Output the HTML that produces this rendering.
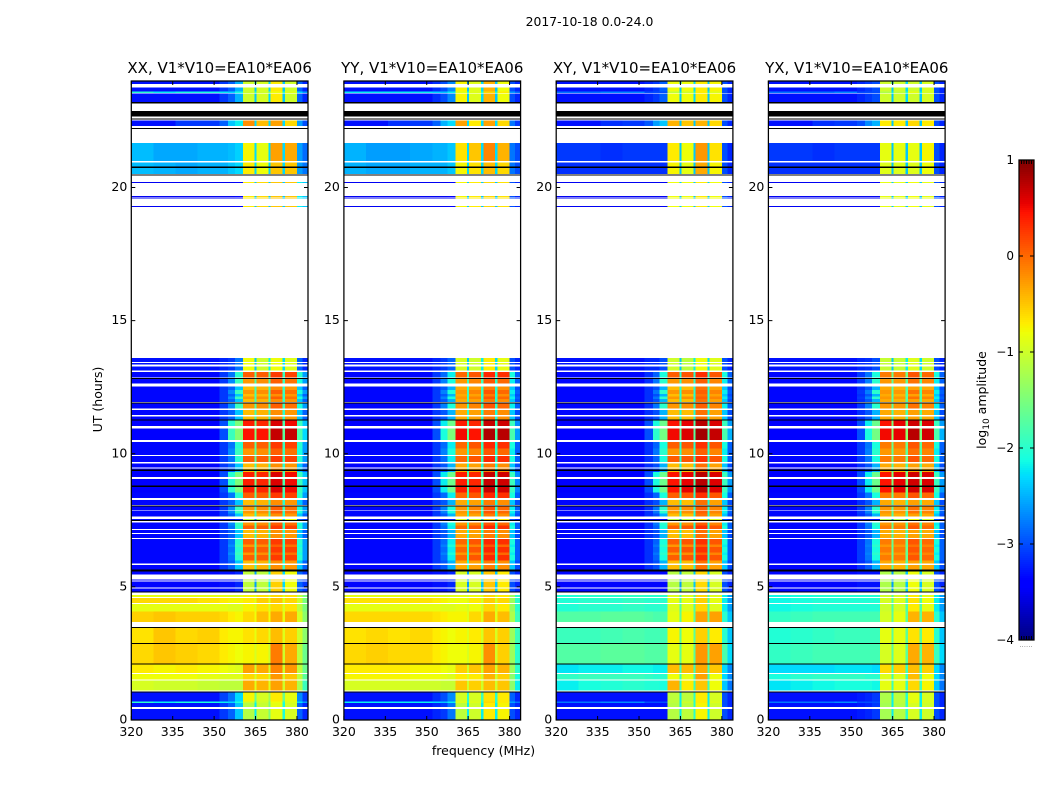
<!DOCTYPE html>
<html lang="en">
<head>
<meta charset="utf-8">
<title>2017-10-18 0.0-24.0 amplitude spectrograms</title>
<style>
html,body{margin:0;padding:0;background:#fff;}
svg{display:block;}
text{font-family:"DejaVu Sans","Liberation Sans",sans-serif;fill:#000;}
.cell{shape-rendering:crispEdges;}
</style>
</head>
<body>
<svg id="chart" xmlns="http://www.w3.org/2000/svg" width="1050" height="800" viewBox="0 0 1050 800">
<text x="589.5" y="26" font-size="12.4" text-anchor="middle">2017-10-18 0.0-24.0</text>
<text x="0" y="0" font-size="12.5" text-anchor="middle" transform="translate(102,399.5) rotate(-90)">UT (hours)</text>
<text x="483.5" y="755" font-size="12.5" text-anchor="middle">frequency (MHz)</text>
<text x="0" y="0" font-size="12.5" text-anchor="middle" transform="translate(986,400) rotate(-90)">log<tspan font-size="9" dy="3">10</tspan><tspan dy="-3"> amplitude</tspan></text>
<g id="panels"></g>
<g id="colorbar"></g>
</svg>
<script>
/* ---- axes data ---- */
const freqEdges = [320,328,336,344,352,355,357.5,360.4,364.6,365.4,369.7,370.5,374.8,375.6,380,382,384];
const freqTicks = [320,335,350,365,380];
const hourTicks = [0,5,10,15,20];
const colorTicks = [1,0,-1,-2,-3,-4];
const panelTitles = ["XX, V1*V10=EA10*EA06","YY, V1*V10=EA10*EA06","XY, V1*V10=EA10*EA06","YX, V1*V10=EA10*EA06"];

/* ---- time rows: start hour, end hour, spectrum profile. Hours not listed are flagged (blank) ---- */
const timeRows = [
[0,.42,"Q2"],[.49,.64,"Q2"],[.64,.69,"P"],[.69,1.03,"Q1"],[1.03,1.07,"K"],
[1.10,1.48,"Y1"],[1.53,1.73,"Y2"],[1.76,2.08,"Y3"],[2.08,2.12,"K"],[2.12,2.85,"Y4"],[2.85,2.90,"K"],
[2.90,3.45,"Y5"],[3.45,3.50,"K"],[3.68,4.07,"Y6"],[4.07,4.36,"Y7"],[4.40,4.58,"Y8"],[4.62,4.70,"Y7"],
[4.78,4.82,"K"],[4.82,4.93,"Q3"],[4.98,5.20,"Q3"],[5.24,5.27,"Q3"],[5.46,5.57,"Q3"],[5.57,5.65,"K"],
[5.66,5.82,"A2"],[5.88,6.0,"A2"],[6.0,6.2,"A1"],[6.2,6.3,"A5"],[6.3,6.5,"A1"],[6.5,6.6,"A5"],[6.6,6.79,"A1"],
[6.83,6.99,"A2"],[7.03,7.14,"A2"],[7.18,7.3,"A1"],[7.3,7.41,"A5"],[7.47,7.52,"K"],[7.52,7.55,"Q3"],
[7.64,7.75,"A2"],[7.75,7.85,"A5"],[7.86,8.02,"A5"],[8.02,8.06,"K"],[8.07,8.26,"A2"],[8.34,8.54,"A1"],[8.54,8.75,"A3"],[8.75,8.8,"K"],
[8.8,9.06,"A3"],[9.12,9.31,"A3"],[9.31,9.36,"A2"],[9.36,9.4,"K"],[9.4,9.44,"A2"],[9.49,9.64,"A2"],
[9.69,9.92,"A1"],[9.96,10.2,"A5"],[10.2,10.45,"A1"],[10.52,10.95,"A4"],[11.04,11.24,"A3"],[11.24,11.28,"K"],
[11.28,11.39,"A2"],[11.46,11.64,"A2"],[11.7,11.89,"A5"],[11.89,11.93,"K"],[11.95,12.05,"A2"],[12.05,12.15,"A5"],[12.15,12.25,"A2"],[12.25,12.4,"A5"],[12.4,12.52,"A2"],
[12.64,12.8,"A5"],[12.8,12.84,"K"],[12.86,13.07,"A1"],[13.12,13.27,"L"],[13.35,13.4,"L"],[13.44,13.6,"L"],
[19.27,19.31,"S"],[19.58,19.62,"S"],[19.64,19.68,"S"],[20.16,20.2,"S"],[20.45,20.49,"K"],
[20.5,20.74,"C"],[20.74,20.78,"K"],[20.78,20.93,"C"],[21.0,21.67,"C2"],[22.2,22.24,"K"],[22.31,22.51,"D"],[22.56,22.6,"K"],
[22.66,22.88,"K"],[23.16,23.21,"K"],[23.22,23.53,"T"],[23.55,23.6,"P"],[23.6,23.75,"T"],[23.88,24,"T"]
];

/* ---- log10 amplitude per frequency channel for each polarisation ---- */
const xxProfiles = {
K:[-9,-9,-9,-9,-9,-9,-9,-9,-9,-9,-9,-9,-9,-9,-9,-9],
Q1:[-3.3,-3.3,-3.3,-3.3,-3.05,-2.8,-2.3,-.75,-1.6,-.95,-1.3,-.7,-1.6,-.85,-2.7,-3.1],
Q2:[-3.3,-3.3,-3.3,-3.3,-3.1,-2.9,-2.4,-1.15,-2.2,-1.05,-1.5,-.85,-2.1,-.95,-2.9,-3.2],
Q3:[-3.35,-3.35,-3.35,-3.35,-3.3,-3.3,-3.2,-1.1,-2.6,-1.1,-2.2,-.55,-2.3,-.8,-2.9,-3.1],
P:[-2,-2.2,-2.1,-2.1,-2.2,-2.3,-2.1,-1,-2,-1,-1.5,-.8,-2,-.9,-2.3,-2.6],
Y1:[-.95,-1,-1,-1.05,-1.1,-1.1,-1.1,-.35,-.9,-.4,-.9,-.3,-1,-.4,-1.2,-1.9],
Y2:[-.8,-.8,-.8,-.85,-.9,-.9,-.9,-.6,-.95,-.6,-1,-.25,-1,-.5,-1.1,-1.7],
Y3:[-.7,-.75,-.7,-.75,-.8,-.85,-.9,-.3,-1,-.35,-1,-.15,-1,-.25,-1.1,-1.6],
Y4:[-.6,-.5,-.55,-.6,-.7,-.75,-.8,-.75,-.95,-.75,-1,-.1,-1,-.35,-1.1,-1.6],
Y5:[-.65,-.5,-.6,-.55,-.7,-.75,-.75,-.65,-.85,-.6,-.9,-.45,-.9,-.55,-1,-1.4],
Y6:[-.55,-.5,-.55,-.55,-.6,-.7,-.75,-.6,-.8,-.45,-.8,-.35,-.85,-.35,-.95,-1.4],
Y7:[-.85,-.85,-.85,-.85,-.85,-.9,-.9,-.75,-.9,-.65,-.95,-.6,-.95,-.65,-1.1,-1.5],
Y8:[-.6,-.6,-.6,-.65,-.7,-.75,-.75,-.7,-.85,-.55,-.9,-.5,-.9,-.6,-1,-1.5],
A1:[-3.35,-3.35,-3.35,-3.35,-3.1,-2.8,-2,.05,-1.7,.05,-1.7,.25,-1.9,.2,-2,-2.6],
A2:[-3.35,-3.35,-3.35,-3.35,-3.1,-2.9,-2.4,-.45,-1.9,-.4,-1.9,-.2,-2,-.25,-2.4,-2.9],
A3:[-3.4,-3.4,-3.4,-3.4,-3,-2,-1.5,.4,-1.6,.35,-1.6,.6,-1.8,.5,-1.9,-2.4],
A4:[-3.4,-3.4,-3.4,-3.4,-3,-1.9,-1.45,.45,-1.5,.45,-1.5,.7,-1.7,.7,-1.8,-2.3],
A5:[-3.35,-3.35,-3.35,-3.35,-3.1,-2.7,-1.9,-.25,-1.8,-.2,-1.8,.05,-1.9,-.05,-2.1,-2.6],
L:[-3.3,-3.3,-3.3,-3.3,-3.2,-3.1,-2.8,-.8,-2.4,-1,-2.2,-.8,-2.3,-.9,-2.9,-3.2],
S:[-3.5,-3.5,-3.5,-3.5,-3.5,-3.5,-3.4,-.7,-2.4,-.6,-2.4,-.5,-2.4,-.5,-2.2,-2.4],
C:[-2.45,-2.5,-2.55,-2.5,-2.5,-2.4,-2.3,-.7,-2.3,-.8,-2.3,-.5,-2.3,-.5,-2.6,-2.8],
C2:[-2.45,-2.55,-2.55,-2.5,-2.5,-2.45,-2.35,-.75,-2.3,-.85,-2.3,-.3,-2.3,-.35,-2.6,-2.85],
D:[-3.3,-3.3,-3.1,-3.1,-2.9,-2.4,-2.2,-.2,-2.3,-.45,-2.3,-.3,-2.3,-.6,-2.6,-3],
T:[-3.3,-3.3,-3.3,-3.3,-3.1,-2.9,-2.5,-1,-2.4,-.95,-2.3,-.7,-2.4,-1,-2.9,-3.2]
};
const yyProfiles = {
K:[-9,-9,-9,-9,-9,-9,-9,-9,-9,-9,-9,-9,-9,-9,-9,-9],
Q1:[-3.3,-3.3,-3.3,-3.3,-3.15,-3,-2.7,-.95,-2,-.95,-1.9,-.65,-2,-.7,-2.9,-3.2],
Q2:[-3.3,-3.3,-3.3,-3.3,-3.2,-3.1,-2.8,-1.1,-2.2,-1,-2.2,-.7,-2.2,-.75,-3,-3.2],
Q3:[-3.35,-3.35,-3.35,-3.35,-3.3,-3.3,-3.2,-.95,-2.6,-.95,-2.4,-.5,-2.4,-.7,-3,-3.2],
P:[-2.2,-2.2,-2.2,-2.2,-2.3,-2.4,-2.2,-.9,-2,-.9,-2,-.6,-2,-.7,-2.6,-2.8],
Y1:[-.95,-.95,-.95,-1,-1,-1.05,-1.05,-.5,-1,-.55,-1,-.45,-1,-.5,-1.4,-2.2],
Y2:[-.75,-.75,-.75,-.8,-.8,-.85,-.9,-.7,-.95,-.7,-1,-.4,-1,-.55,-1.4,-2.1],
Y3:[-.7,-.7,-.7,-.75,-.75,-.8,-.85,-.55,-1,-.5,-1,-.3,-1,-.4,-1.3,-2],
Y4:[-.6,-.55,-.6,-.6,-.7,-.75,-.8,-.8,-.95,-.75,-1,-.2,-1,-.55,-1.3,-2],
Y5:[-.65,-.6,-.65,-.6,-.7,-.75,-.8,-.75,-.9,-.7,-.95,-.5,-.95,-.55,-1.3,-1.9],
Y6:[-.6,-.6,-.6,-.6,-.65,-.7,-.75,-.75,-.9,-.6,-.9,-.35,-.9,-.45,-1.2,-1.9],
Y7:[-.85,-.85,-.85,-.85,-.85,-.9,-.9,-.85,-.95,-.8,-1,-.6,-1,-.7,-1.3,-2],
Y8:[-.65,-.65,-.65,-.65,-.7,-.75,-.8,-.8,-.9,-.7,-.95,-.55,-.95,-.6,-1.3,-2],
A1:[-3.35,-3.35,-3.35,-3.35,-3.1,-2.85,-2.2,0,-1.9,.1,-1.9,.35,-2,.3,-2.1,-2.9],
A2:[-3.35,-3.35,-3.35,-3.35,-3.1,-2.95,-2.5,-.35,-2,-.3,-2,-.1,-2.1,-.2,-2.4,-3],
A3:[-3.4,-3.4,-3.4,-3.4,-3,-2.2,-1.6,.4,-1.8,.35,-1.8,.7,-1.9,.65,-1.9,-2.7],
A4:[-3.4,-3.4,-3.4,-3.4,-3,-2.1,-1.5,.5,-1.7,.45,-1.7,.8,-1.8,.75,-1.8,-2.6],
A5:[-3.35,-3.35,-3.35,-3.35,-3.1,-2.75,-2.1,-.25,-1.9,-.15,-1.9,.1,-2,0,-2.2,-2.9],
L:[-3.3,-3.3,-3.3,-3.3,-3.2,-3.1,-2.9,-.95,-2.4,-1,-2.2,-.7,-2.3,-.85,-3,-3.2],
S:[-3.5,-3.5,-3.5,-3.5,-3.5,-3.5,-3.4,-.75,-2.4,-.7,-2.4,-.6,-2.4,-.65,-3,-3.2],
C:[-2.5,-2.55,-2.55,-2.5,-2.5,-2.5,-2.4,-.75,-2.3,-.65,-2.3,-.45,-2.3,-.6,-2.8,-3],
C2:[-2.5,-2.6,-2.6,-2.55,-2.5,-2.5,-2.4,-.65,-2.3,-.5,-2.3,-.15,-2.3,-.4,-2.8,-3],
D:[-3.3,-3.3,-3.15,-3.1,-2.9,-2.5,-2.3,-.3,-2.3,-.7,-2.3,-.3,-2.3,-.6,-2.8,-3.1],
T:[-3.3,-3.3,-3.3,-3.3,-3.15,-3,-2.7,-.75,-2.4,-.9,-2.3,-.4,-2.4,-.8,-3,-3.2]
};
const xyProfiles = {
K:[-9,-9,-9,-9,-9,-9,-9,-9,-9,-9,-9,-9,-9,-9,-9,-9],
Q1:[-3.3,-3.3,-3.3,-3.3,-3.3,-3.3,-3.3,-1.1,-2.2,-1.1,-2,-.7,-2.2,-.95,-3,-3.2],
Q2:[-3.3,-3.3,-3.3,-3.3,-3.3,-3.3,-3.3,-1.15,-2.2,-1.1,-2,-.75,-2.2,-1,-3,-3.2],
Q3:[-3.35,-3.35,-3.35,-3.35,-3.35,-3.35,-3.35,-1.15,-2.6,-1.1,-2.4,-.6,-2.4,-.95,-3,-3.2],
P:[-2.8,-2.8,-2.7,-2.7,-3,-3,-3,-1.1,-2.2,-1,-2,-.7,-2.2,-.9,-3,-3.2],
Y1:[-2.2,-2.1,-2.05,-2,-2.05,-2.05,-2.1,-.4,-1.9,-.7,-1.9,-.5,-1.9,-.8,-2.4,-2.8],
Y2:[-1.95,-1.9,-1.9,-1.9,-1.95,-2,-2,-.8,-1.9,-.85,-1.9,-.3,-1.9,-.8,-2.3,-2.7],
Y3:[-2.25,-2.2,-2.2,-2.15,-2.15,-2.2,-2.2,-.45,-1.9,-.45,-1.9,-.35,-1.9,-.5,-2.3,-2.7],
Y4:[-1.75,-1.75,-1.7,-1.7,-1.75,-1.75,-1.75,-.85,-1.7,-.85,-1.7,-.25,-1.7,-.3,-1.8,-2.3],
Y5:[-1.9,-1.9,-1.85,-1.8,-1.85,-1.85,-1.85,-.75,-1.7,-.8,-1.7,-.55,-1.7,-.7,-2,-2.4],
Y6:[-1.75,-1.75,-1.7,-1.7,-1.75,-1.8,-1.8,-.85,-1.7,-.75,-1.7,-.3,-1.7,-.3,-2,-2.4],
Y7:[-2.05,-2,-2,-1.95,-2,-2,-2,-.9,-1.8,-.9,-1.8,-.6,-1.8,-.9,-2.2,-2.6],
Y8:[-2.05,-2,-2,-1.95,-2,-2,-2,-.85,-1.8,-.85,-1.8,-.55,-1.8,-.85,-2.2,-2.6],
A1:[-3.35,-3.35,-3.35,-3.35,-3.15,-2.9,-2.1,.05,-2,.1,-2,.3,-2,.1,-2.1,-2.9],
A2:[-3.35,-3.35,-3.35,-3.35,-3.15,-3,-2.5,-.45,-2.1,-.45,-2.1,-.05,-2.1,-.3,-2.4,-3],
A3:[-3.4,-3.4,-3.4,-3.4,-3,-2.1,-1.6,.45,-1.8,.55,-1.8,.75,-1.9,.6,-1.9,-2.6],
A4:[-3.4,-3.4,-3.4,-3.4,-3,-2,-1.55,.5,-1.7,.6,-1.7,.85,-1.8,.7,-1.8,-2.5],
A5:[-3.35,-3.35,-3.35,-3.35,-3.15,-2.8,-2,-.25,-2,-.2,-2,.05,-2,-.15,-2.2,-2.9],
L:[-3.3,-3.3,-3.3,-3.3,-3.2,-3.2,-3,-1,-2.4,-1.1,-2.2,-.8,-2.3,-.9,-3,-3.2],
S:[-3.5,-3.5,-3.5,-3.5,-3.5,-3.5,-3.5,-.8,-2.4,-.8,-2.4,-.7,-2.4,-.8,-3,-3.2],
C:[-3.15,-3.15,-3.15,-3.15,-3.15,-3.15,-3.15,-.75,-2.4,-.85,-2.4,-.35,-2.4,-.75,-3,-3.2],
C2:[-3.1,-3.1,-3.15,-3.1,-3.1,-3.1,-3.1,-.7,-2.4,-.8,-2.4,-.25,-2.4,-.65,-3,-3.2],
D:[-3.3,-3.3,-3.15,-3.1,-2.95,-2.6,-2.4,-.4,-2.4,-.5,-2.4,-.4,-2.4,-.6,-3,-3.2],
T:[-3.3,-3.3,-3.3,-3.3,-3.2,-3.1,-2.9,-.8,-2.4,-.8,-2.3,-.7,-2.4,-.75,-3,-3.2]
};
const yxProfiles = {
K:[-9,-9,-9,-9,-9,-9,-9,-9,-9,-9,-9,-9,-9,-9,-9,-9],
Q1:[-3.3,-3.3,-3.3,-3.3,-3.25,-3.2,-3.1,-1.2,-2.2,-1.1,-2,-.85,-2.2,-.95,-3,-3.2],
Q2:[-3.3,-3.3,-3.3,-3.3,-3.25,-3.2,-3.1,-1.25,-2.2,-1.15,-2,-.95,-2.2,-1,-3,-3.2],
Q3:[-3.35,-3.35,-3.35,-3.35,-3.3,-3.3,-3.3,-1.2,-2.6,-1.15,-2.4,-.8,-2.4,-.95,-3,-3.2],
P:[-2.8,-2.8,-2.8,-2.7,-3,-3,-3,-1.2,-2.2,-1.1,-2,-.85,-2.2,-.95,-3,-3.2],
Y1:[-2.25,-2.2,-2.15,-2.1,-2.1,-2.1,-2.15,-.85,-1.9,-.85,-1.9,-.6,-1.9,-.75,-2.4,-2.8],
Y2:[-2.1,-2,-1.95,-1.95,-1.95,-2,-2,-.9,-1.9,-.9,-1.9,-.45,-1.9,-.8,-2.3,-2.7],
Y3:[-2.3,-2.3,-2.3,-2.25,-2.25,-2.25,-2.3,-.6,-1.9,-.55,-1.9,-.45,-1.9,-.55,-2.3,-2.7],
Y4:[-1.95,-1.9,-1.85,-1.85,-1.85,-1.85,-1.85,-.95,-1.7,-.9,-1.7,-.35,-1.7,-.4,-1.9,-2.3],
Y5:[-2.05,-2,-1.95,-1.9,-1.9,-1.9,-1.9,-.85,-1.7,-.85,-1.7,-.65,-1.7,-.7,-2,-2.4],
Y6:[-1.95,-1.9,-1.85,-1.85,-1.85,-1.85,-1.85,-.95,-1.7,-.85,-1.7,-.4,-1.7,-.4,-2,-2.4],
Y7:[-2.15,-2.1,-2.05,-2.05,-2.05,-2.05,-2.05,-1,-1.8,-.95,-1.8,-.7,-1.8,-.85,-2.2,-2.6],
Y8:[-2.15,-2.1,-2.05,-2.05,-2.05,-2.05,-2.05,-.95,-1.8,-.9,-1.8,-.65,-1.8,-.8,-2.2,-2.6],
A1:[-3.35,-3.35,-3.35,-3.35,-3.1,-2.8,-2.1,-.1,-1.6,-.1,-1.6,.1,-1.7,0,-2.1,-2.9],
A2:[-3.35,-3.35,-3.35,-3.35,-3.15,-2.95,-2.5,-.35,-1.8,-.4,-1.8,-.3,-1.8,-.35,-2.4,-3],
A3:[-3.4,-3.4,-3.4,-3.4,-3,-2.2,-1.6,.45,-1.5,.55,-1.5,.65,-1.6,.6,-1.9,-2.6],
A4:[-3.4,-3.4,-3.4,-3.4,-3,-2.1,-1.55,.5,-1.4,.55,-1.4,.75,-1.5,.65,-1.8,-2.5],
A5:[-3.35,-3.35,-3.35,-3.35,-3.1,-2.75,-2,-.25,-1.7,-.25,-1.7,-.05,-1.8,-.15,-2.2,-2.9],
L:[-3.3,-3.3,-3.3,-3.3,-3.2,-3.15,-3,-1.05,-2.4,-1.05,-2.2,-.9,-2.3,-1,-3,-3.2],
S:[-3.5,-3.5,-3.5,-3.5,-3.5,-3.5,-3.5,-.85,-2.4,-.85,-2.4,-.8,-2.4,-.85,-3,-3.2],
C:[-3.15,-3.15,-3.15,-3.15,-3.15,-3.15,-3.15,-.9,-2.4,-.9,-2.4,-.9,-2.4,-.8,-3,-3.2],
C2:[-3.1,-3.1,-3.15,-3.1,-3.1,-3.1,-3.1,-.85,-2.4,-.85,-2.4,-.85,-2.4,-.75,-3,-3.2],
D:[-3.3,-3.3,-3.15,-3.1,-3,-2.7,-2.5,-.7,-2.4,-.7,-2.4,-.6,-2.4,-.7,-3,-3.2],
T:[-3.3,-3.3,-3.3,-3.3,-3.2,-3.1,-3,-1,-2.4,-1,-2.3,-1,-2.4,-.95,-3,-3.2]
};
const panelProfiles = [xxProfiles, yyProfiles, xyProfiles, yxProfiles];
const panelKeys = ["xx","yy","xy","yx"];

/* ---- layout and scales ---- */
const SVGNS = "http://www.w3.org/2000/svg";
const panelLefts = [131.3, 343.9, 556.2, 768.4];
const plotW = 176.7, plotTop = 81, plotBottom = 720;
const freqMin = 320, freqMax = 384, hourMin = 0, hourMax = 24;
const cbX = 1019, cbW = 15, cbTop = 160, cbBottom = 640, vMin = -4, vMax = 1;

function xScale(f, left){ return left + (f - freqMin) / (freqMax - freqMin) * plotW; }
function yScale(h){ return plotBottom - (h - hourMin) / (hourMax - hourMin) * (plotBottom - plotTop); }
function cbScale(v){ return cbBottom - (v - vMin) / (vMax - vMin) * (cbBottom - cbTop); }

function seg(t, pts){
  for (let i = 1; i < pts.length; i++) {
    if (t <= pts[i][0]) {
      const a = pts[i-1], b = pts[i];
      return a[1] + (t - a[0]) / (b[0] - a[0]) * (b[1] - a[1]);
    }
  }
  return pts[pts.length-1][1];
}
const jetR = [[0,0],[.35,0],[.66,1],[.89,1],[1,.5]];
const jetG = [[0,0],[.125,0],[.375,1],[.64,1],[.91,0],[1,0]];
const jetB = [[0,.5],[.11,1],[.34,1],[.65,0],[1,0]];
function jet(v){
  if (v < vMin) return "#000";
  const t = Math.min(1, Math.max(0, (v - vMin) / (vMax - vMin)));
  return "rgb(" + [jetR,jetG,jetB].map(c => Math.round(seg(t,c)*255)).join(",") + ")";
}
function mk(tag, attrs, parent){
  const el = document.createElementNS(SVGNS, tag);
  for (const k in attrs) el.setAttribute(k, attrs[k]);
  parent.appendChild(el);
  return el;
}
function label(v){ return v < 0 ? "\u2212" + Math.abs(v) : String(v); }

/* ---- panels ---- */
const root = document.getElementById("panels");
panelLefts.forEach((left, p) => {
  const key = panelKeys[p];
  const g = mk("g", {}, root);
  
  

  const profiles = panelProfiles[p];
  timeRows.forEach(row => {
    const y1 = yScale(row[1]), y0 = yScale(row[0]);
    const values = profiles[row[2]];
    values.forEach((v, c) => {
      const x0 = xScale(freqEdges[c], left), x1 = xScale(freqEdges[c+1], left);
      const r = mk("rect", {x:x0, y:y1, width:x1-x0, height:Math.max(y0-y1,1), fill:jet(v), class:"cell"}, g);
      
      
    });
  });

  const frame = mk("rect", {x:left, y:plotTop, width:plotW, height:plotBottom-plotTop, fill:"none", stroke:"#000", "stroke-width":1.25}, g);
  
  

  const title = mk("text", {x:left+plotW/2, y:plotTop-8, "font-size":15, "text-anchor":"middle"}, g);
  title.textContent = panelTitles[p];
  
  

  freqTicks.forEach(f => {
    const x = xScale(f, left);
    const tb = mk("line", {x1:x, x2:x, y1:plotBottom, y2:plotBottom-4, stroke:"#000"}, g);
    
    
    const tt = mk("line", {x1:x, x2:x, y1:plotTop, y2:plotTop+4, stroke:"#000"}, g);
    
    
    const t = mk("text", {x:x, y:plotBottom+16, "font-size":12.5, "text-anchor":"middle"}, g);
    t.textContent = f;
    
    
  });
  hourTicks.forEach(h => {
    const y = yScale(h);
    const tl = mk("line", {x1:left, x2:left+4, y1:y, y2:y, stroke:"#000"}, g);
    
    
    const tr = mk("line", {x1:left+plotW, x2:left+plotW-4, y1:y, y2:y, stroke:"#000"}, g);
    
    
    const t = mk("text", {x:left-4, y:y+3.5, "font-size":12.5, "text-anchor":"end"}, g);
    t.textContent = h;
    
    
  });
});

/* ---- colorbar ---- */
const cb = document.getElementById("colorbar");
const cbSteps = 240;
for (let i = 0; i < cbSteps; i++) {
  const v0 = vMin + (vMax - vMin) * i / cbSteps;
  const v1 = vMin + (vMax - vMin) * (i + 1) / cbSteps;
  const s = mk("rect", {x:cbX, y:cbScale(v1), width:cbW, height:cbScale(v0)-cbScale(v1), fill:jet((v0+v1)/2), class:"cell"}, cb);
  
  
}
const cbFrame = mk("rect", {x:cbX, y:cbTop, width:cbW, height:cbBottom-cbTop, fill:"none", stroke:"#000", "stroke-width":1.25}, cb);


colorTicks.forEach(v => {
  const y = cbScale(v);
  const a = mk("line", {x1:cbX, x2:cbX+4, y1:y, y2:y, stroke:"#000"}, cb);
  
  
  const b = mk("line", {x1:cbX+cbW, x2:cbX+cbW-4, y1:y, y2:y, stroke:"#000"}, cb);
  
  
  const t = mk("text", {x:cbX-5, y:y+4, "font-size":12, "text-anchor":"end"}, cb);
  t.textContent = label(v);
  
  
});
for (let i = 1; i <= 5; i++) {
  const x = cbX + cbW * i / 6;
  const top = mk("line", {x1:x, x2:x, y1:cbTop, y2:cbTop+4, stroke:"#000"}, cb);
  
  
  const bot = mk("line", {x1:x, x2:x, y1:cbBottom, y2:cbBottom-4, stroke:"#000"}, cb);
  
  
}
const dots = mk("text", {x:cbX+7, y:647, "font-size":7, "text-anchor":"middle", style:"fill:#888"}, cb);
dots.textContent = "......";


</script>
</body>
</html>
